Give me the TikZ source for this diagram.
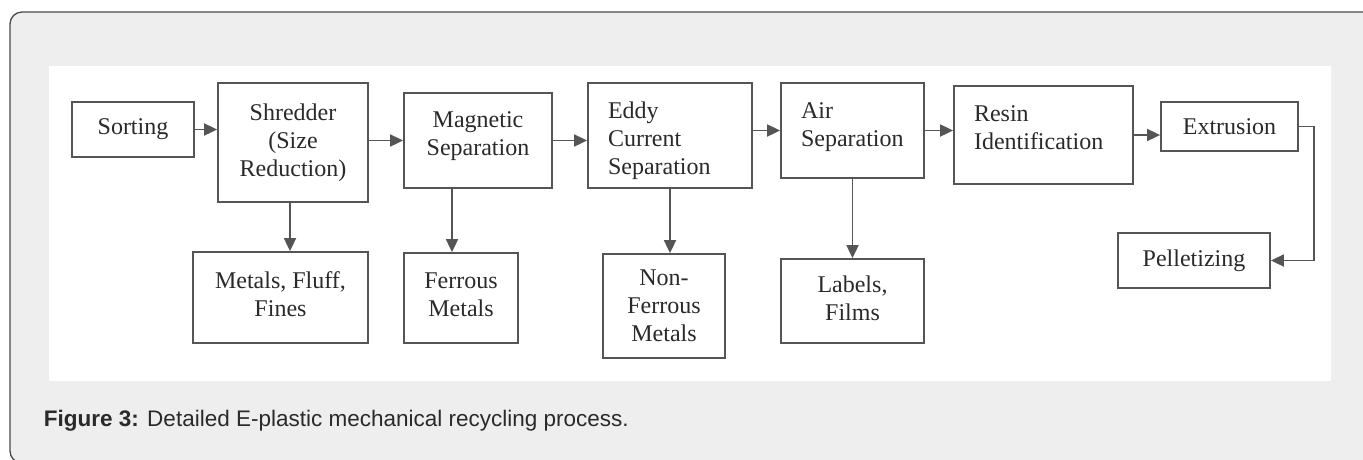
\documentclass[tikz,border=0pt]{standalone}
\usepackage{fontspec}
\setmainfont{Liberation Serif}
\newfontfamily\capfont{Liberation Sans}
\usetikzlibrary{arrows.meta,positioning,calc}

\definecolor{pagegray}{HTML}{EEEEEE}
\definecolor{framegray}{HTML}{4A4A4A}
\definecolor{inkgray}{HTML}{2A2A2A}
\definecolor{linegray}{HTML}{555555}

\tikzset{
  box/.style={draw=linegray, line width=1.8pt, text=inkgray, align=center,
    inner sep=0pt, font=\fontsize{24}{28}\selectfont},
  lbox/.style={box, align=left, inner xsep=20pt},
  flow/.style={->, draw=linegray, line width=1.8pt},
}

\begin{document}
\begin{tikzpicture}[x=1pt,y=-1pt,>={Triangle[length=13pt,width=12pt]},line width=1.8pt]
    \useasboundingbox (0,0) rectangle (1363,459);
    \filldraw[fill=pagegray, draw=framegray, line width=1.3pt, rounded corners=12pt]
      (10,12) rectangle (1395,463);
    \fill[white] (49,66) rectangle (1331,381);

    % main line
    \node[box, minimum width=122pt, minimum height=55pt]  (sorting)   at (133,129.5)  {Sorting};
    \node[box, minimum width=150pt, minimum height=119pt] (shredder)  at (293,142.5)  {Shredder\\(Size\\Reduction)};
    \node[box, minimum width=148pt, minimum height=95pt, text depth=14pt]  (magnetic)  at (478,140.5)  {Magnetic\\Separation};
    \node[lbox, text width=124pt, minimum height=105pt, text depth=51pt]   (eddy)      at (670,135.5)  {Eddy\\Current\\Separation};
    \node[lbox, text width=103pt, minimum height=95pt, text depth=39pt]    (air)       at (852.5,130.5) {Air\\Separation};
    \node[lbox, text width=139pt, minimum height=98pt, text depth=43pt]    (resin)     at (1043.5,135) {Resin\\Identification};
    \node[box, minimum width=137pt, minimum height=49pt]  (extrusion) at (1229.5,126.5) {Extrusion};
    \node[box, minimum width=152pt, minimum height=55pt]  (pellet)    at (1194,260.5) {Pelletizing};

    % side outputs
    \node[box, minimum width=175pt, minimum height=91pt, text depth=6pt]  (fluff)  at (280.5,297.5) {Metals, Fluff,\\Fines};
    \node[box, minimum width=114pt, minimum height=90pt, text depth=6pt]  (ferrous) at (461,298)    {Ferrous\\Metals};
    \node[box, minimum width=122pt, minimum height=104pt] (nonferrous) at (664,306)   {Non-\\Ferrous\\Metals};
    \node[box, minimum width=143pt, minimum height=84pt, text depth=6pt]  (films)  at (852.5,301)  {Labels,\\Films};

    \path[every edge/.style={flow}]
    (sorting.east)                  edge (sorting.east -| shredder.west)
    (magnetic.west -| shredder.east) edge (magnetic.west)
    (magnetic.east)                 edge (magnetic.east -| eddy.west)
    (air.west -| eddy.east)         edge (air.west)
    (air.east)                      edge (air.east -| resin.west)
    (resin.east)                    edge (resin.east -| extrusion.west)
    ([xshift=-3pt]shredder.south)   edge ([xshift=-3pt]shredder.south |- fluff.north)
    ([xshift=-26pt]magnetic.south)  edge ([xshift=-26pt]magnetic.south |- ferrous.north)
    (eddy.south)                    edge (eddy.south |- nonferrous.north)
    (air.south)                     edge (air.south |- films.north)
    ;
    \draw[flow] (extrusion.east) -- ++(15,0) |- (pellet.east);

    \node[anchor=base west, inner sep=0pt, text=inkgray, font=\capfont\fontsize{22.5}{26}\selectfont]
      (caption) at (43,426) {\textbf{Figure 3:} Detailed E-plastic mechanical recycling process.};
\end{tikzpicture}
\end{document}
